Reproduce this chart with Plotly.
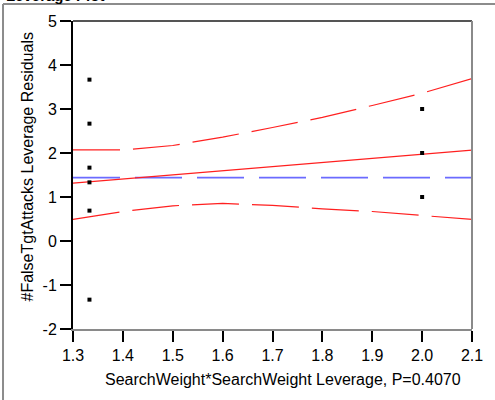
import plotly.graph_objects as go

# ---- data ----
x_points = [1.333, 1.333, 1.333, 1.333, 1.333, 1.333, 2.0, 2.0, 2.0]
y_points = [3.667, 2.667, 1.667, 1.333, 0.69, -1.333, 3.0, 2.0, 1.0]

fit_x = [1.3, 2.1]
fit_y = [1.316, 2.065]

curve_x = [1.3, 1.35, 1.4, 1.5, 1.6, 1.7, 1.8, 1.9, 2.0, 2.1]
upper_y = [2.07, 2.065, 2.07, 2.17, 2.36, 2.58, 2.81, 3.08, 3.36, 3.69]
lower_y = [0.49, 0.58, 0.67, 0.80, 0.855, 0.81, 0.73, 0.67, 0.58, 0.49]

mean_x = [1.3, 2.1]
mean_y = [1.44, 1.44]

x_ticks = [1.3, 1.4, 1.5, 1.6, 1.7, 1.8, 1.9, 2.0, 2.1]
x_ticktext = ["1.3", "1.4", "1.5", "1.6", "1.7", "1.8", "1.9", "2.0", "2.1"]
y_ticks = [-2, -1, 0, 1, 2, 3, 4, 5]
y_ticktext = ["-2", "-1", "0", "1", "2", "3", "4", "5"]

title_text = "Leverage Plot"
x_title = "SearchWeight*SearchWeight Leverage, P=0.4070"
y_title = "#FalseTgtAttacks Leverage Residuals"

FONT = "Liberation Sans, Arial, sans-serif"

fig = go.Figure()
fig.add_trace(go.Scatter(x=mean_x, y=mean_y, mode="lines",
                         line=dict(color="#6b6bff", width=1.7, dash="47px,15px"),
                         hoverinfo="skip"))
fig.add_trace(go.Scatter(x=curve_x, y=upper_y, mode="lines",
                         line=dict(color="#ff2020", width=1.2, dash="47px,13px"),
                         hoverinfo="skip"))
fig.add_trace(go.Scatter(x=curve_x, y=lower_y, mode="lines",
                         line=dict(color="#ff2020", width=1.2, dash="47px,13px"),
                         hoverinfo="skip"))
fig.add_trace(go.Scatter(x=fit_x, y=fit_y, mode="lines",
                         line=dict(color="#ff2020", width=1.2),
                         hoverinfo="skip"))
fig.add_trace(go.Scatter(x=x_points, y=y_points, mode="markers",
                         marker=dict(symbol="square", size=4, color="black",
                                     line=dict(width=0))))

fig.update_layout(
    width=495, height=400,
    margin=dict(l=73, r=23, t=21, b=71),
    paper_bgcolor="white", plot_bgcolor="white",
    showlegend=False,
    font=dict(family=FONT, size=16, color="black"),
    xaxis=dict(range=[1.3, 2.1], tickvals=x_ticks, ticktext=x_ticktext,
               showgrid=False, zeroline=False,
               showline=True, linecolor="#8a8a8a", linewidth=2,
               ticks="outside", ticklen=11, tickwidth=1.5, tickcolor="black",
               tickfont=dict(size=16, family=FONT)),
    yaxis=dict(range=[-2, 5], tickvals=y_ticks, ticktext=y_ticktext,
               showgrid=False, zeroline=False,
               showline=True, linecolor="black", linewidth=2,
               ticks="outside", ticklen=11, tickwidth=2, tickcolor="black",
               tickfont=dict(size=16, family=FONT)),
    shapes=[
        # plot frame top and right
        dict(type="line", xref="paper", yref="paper", x0=0, x1=1, y0=1, y1=1,
             line=dict(color="#555555", width=2)),
        dict(type="line", xref="paper", yref="paper", x0=1, x1=1, y0=0, y1=1,
             line=dict(color="#8a8a8a", width=2)),
        # outer gray border
        dict(type="line", xref="paper", yref="paper", x0=-0.1754, x1=1.06,
             y0=1.0552, y1=1.0552, line=dict(color="#8c8c8c", width=2)),
        dict(type="line", xref="paper", yref="paper", x0=-0.1754, x1=-0.1754,
             y0=-0.24, y1=1.0552, line=dict(color="#8c8c8c", width=2)),
    ],
    annotations=[
        dict(text=x_title, xref="paper", yref="paper",
             x=(283 - 73) / 399, y=(329 - 379) / 308,
             xanchor="center", yanchor="middle", showarrow=False,
             font=dict(size=16, family=FONT)),
        dict(text=y_title, xref="paper", yref="paper",
             x=(27 - 73) / 399, y=(329 - 167.5) / 308, textangle=-90,
             xanchor="center", yanchor="middle", showarrow=False,
             font=dict(size=16, family=FONT)),
        dict(text="<b>" + title_text + "</b>", xref="paper", yref="paper",
             x=(4 - 73) / 399, y=(329 + 4) / 308,
             xanchor="left", yanchor="middle", showarrow=False,
             font=dict(size=15, family=FONT)),
    ],
)

fig.write_html("out.html", config={"displayModeBar": False},
               post_script="document.body.style.margin='0px';")
